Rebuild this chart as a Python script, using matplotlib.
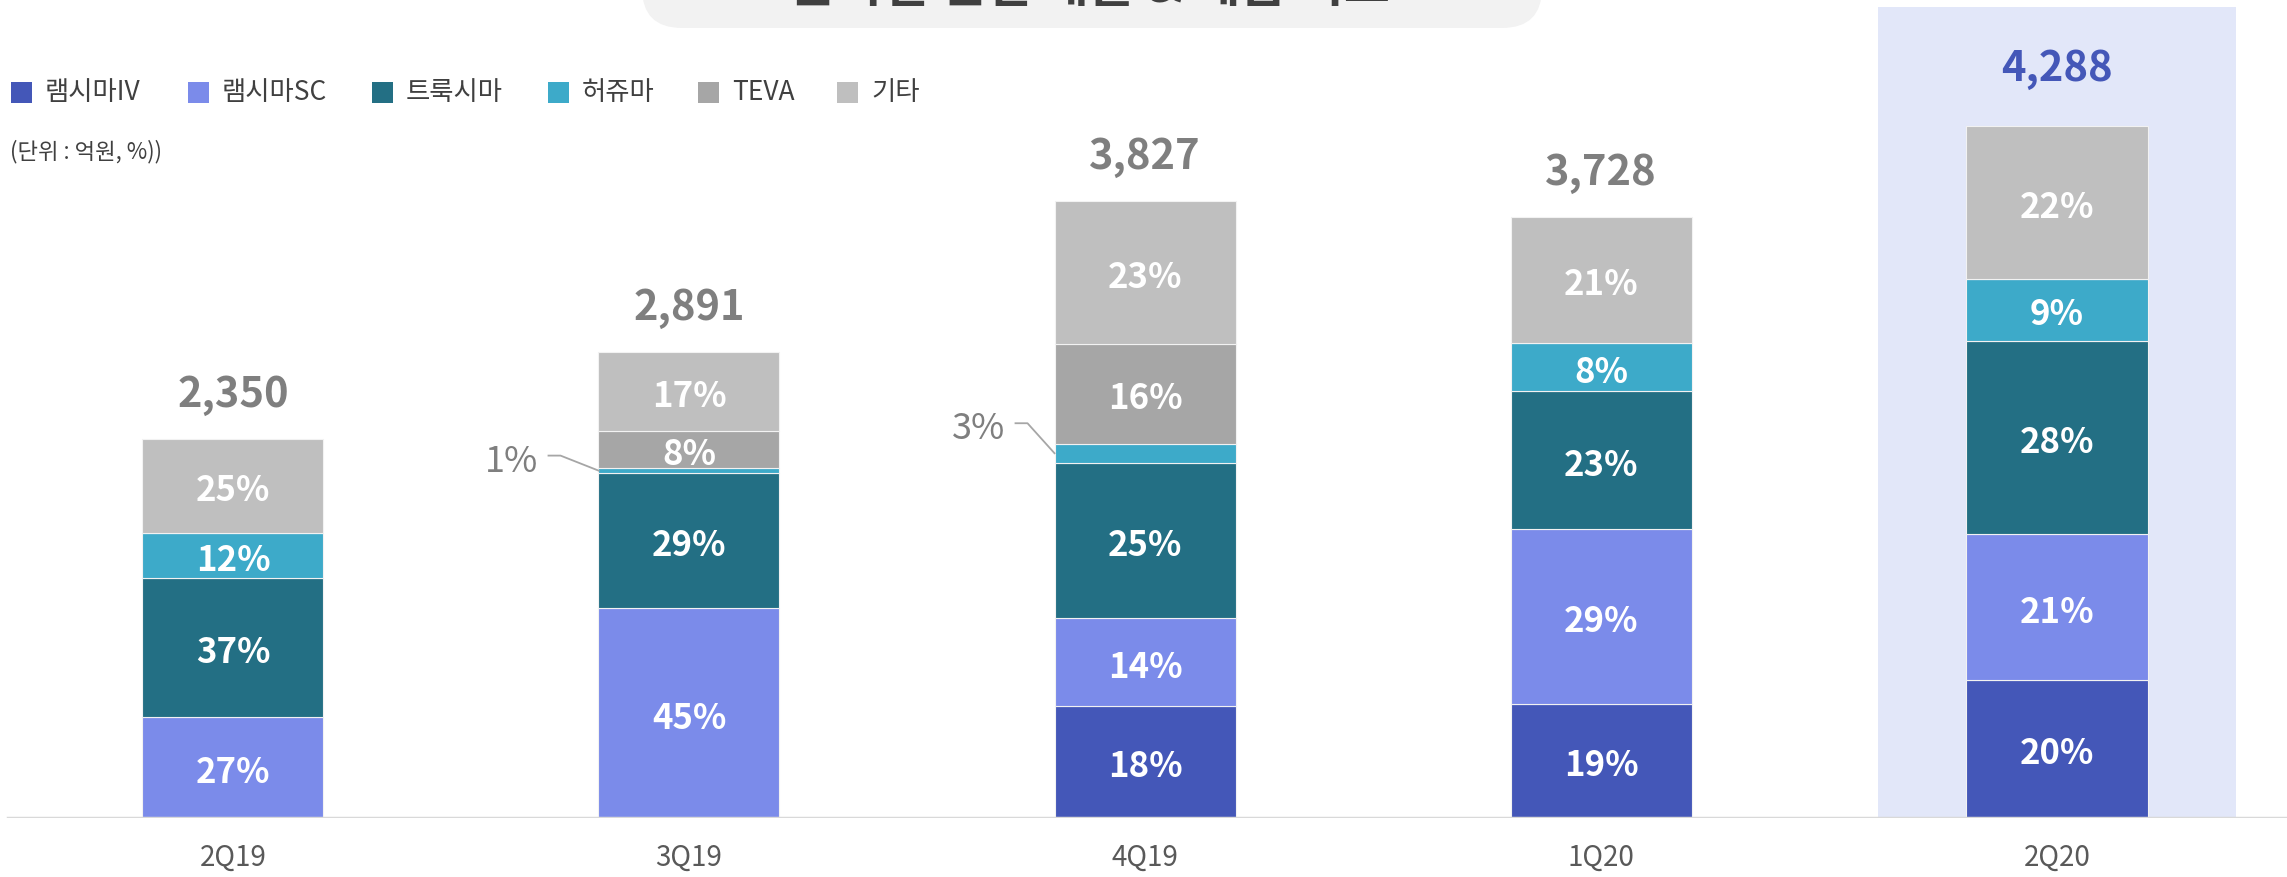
import matplotlib

matplotlib.use("Agg")
import matplotlib.pyplot as plt
from matplotlib.patches import Rectangle, FancyBboxPatch
from matplotlib.transforms import IdentityTransform
import numpy as np

plt.rcParams["font.family"] = ["Noto Sans CJK KR", "DejaVu Sans"]

# ── Data ──────────────────────────────────────────────────────────────────────
quarters = ["2Q19", "3Q19", "4Q19", "1Q20", "2Q20"]
totals = [2350, 2891, 3827, 3728, 4288]
products = ["램시마IV", "램시마SC", "트룩시마", "허쥬마", "TEVA", "기타"]
share_iv = [0, 0, 18, 19, 20]
share_sc = [27, 45, 14, 29, 21]
share_truxima = [37, 29, 25, 23, 28]
share_herzuma = [12, 1, 3, 8, 9]
share_teva = [0, 8, 16, 0, 0]
share_etc = [25, 17, 23, 21, 22]
title = "분기별 연결 매출 & 제품 믹스"
unit_note = "(단위 : 억원, %))"

COLORS = ["#4457B8", "#7B8BEA", "#236F84", "#3DAAC9", "#A6A6A6", "#BFBFBF"]
HIGHLIGHT = "#E2E7F9"

# ── Layout (pixels of the 2287x877 canvas) ────────────────────────────────────
W, H = 2287, 877
BASE_PX = 818          # baseline y from top
PX_PER_UNIT = 0.1613   # vertical scale
SLOT_PX = 456          # distance between bar centres
FIRST_PX = 233         # centre of first bar

fig = plt.figure(figsize=(W / 100, H / 100), dpi=100)
ax = fig.add_axes([0, (H - BASE_PX) / H, 1, BASE_PX / H])
ax.set_xlim(-FIRST_PX / SLOT_PX, (W - FIRST_PX) / SLOT_PX)
ax.set_ylim(0, BASE_PX / PX_PER_UNIT)
for s in ax.spines.values():
    s.set_visible(False)
ax.set_yticks([])

dx = 1 / SLOT_PX        # data x per pixel
dy = 1 / PX_PER_UNIT    # data y per pixel

x = np.arange(len(quarters))
bar_w = 181 * dx

# highlight for latest quarter
ax.add_patch(Rectangle((x[-1] - 179 * dx, 0), 358 * dx, (BASE_PX - 7) * dy,
                       color=HIGHLIGHT, zorder=0, lw=0))

shares = np.array([share_iv, share_sc, share_truxima, share_herzuma,
                   share_teva, share_etc], dtype=float)
seg = shares / shares.sum(axis=0) * np.array(totals)

bottom = np.zeros(len(quarters))
for k in range(len(products)):
    ax.bar(x, seg[k], bar_w, bottom=bottom, color=COLORS[k],
           edgecolor="#F2F2F2", linewidth=0.8, zorder=2)
    for i in range(len(quarters)):
        p = shares[k, i]
        if p == 0:
            continue
        mid = bottom[i] + seg[k, i] / 2
        if p >= 5:
            ax.text(x[i], mid - 5 * dy, f"{int(p)}%", ha="center", va="center",
                    color="white", fontsize=25, fontweight="bold", zorder=3)
        else:
            # small slice: leader line out to the left
            x0 = x[i] - bar_w / 2
            rise = 15 if p < 2 else 30
            run = 38 if p < 2 else 27
            xs = [x0, x0 - run * dx, x0 - (run + 12) * dx]
            ys = [mid, mid + rise * dy, mid + rise * dy]
            ax.plot(xs, ys, color="#A6A6A6", lw=1.3, zorder=3)
            ax.text(x0 - (run + 22) * dx, mid + (rise - 6) * dy, f"{int(p)}%",
                    ha="right", va="center", color="#7F7F7F", fontsize=26,
                    zorder=3)
    bottom += seg[k]

# totals
for i, t in enumerate(totals):
    last = i == len(totals) - 1
    ax.text(x[i], t + (57 if last else 44) * dy, f"{t:,}", ha="center",
            va="center", fontsize=30, fontweight="bold",
            color="#4457B8" if last else "#7F7F7F", zorder=3)

ax.axhline(0, xmin=8 / W, xmax=1, color="#D9D9D9", lw=2.5, zorder=4)
ax.set_xticks(x)
ax.set_xticklabels(quarters, fontsize=20, color="#595959")
ax.tick_params(axis="x", length=0, pad=18)

# ── Legend ────────────────────────────────────────────────────────────────────
sq_x = [11, 188, 372, 548, 698, 837]
for k, name in enumerate(products):
    fig.add_artist(Rectangle((sq_x[k] / W, 1 - 103 / H), 21 / W, 21 / H,
                             transform=fig.transFigure, color=COLORS[k], lw=0))
    fig.text((sq_x[k] + 34) / W, 1 - 93 / H, name, ha="left", va="center",
             fontsize=19, color="#404040")
fig.text(10 / W, 1 - 152 / H, unit_note, ha="left", va="center",
         fontsize=16, color="#404040")

# ── Title tab (mostly cut off at the top) ─────────────────────────────────────
fig.add_artist(FancyBboxPatch((642, H - 28), 900, 120,
                              boxstyle="round,pad=0,rounding_size=40",
                              transform=IdentityTransform(),
                              facecolor="#F2F2F2", edgecolor="none"))
fig.text(1090 / W, 1 - 13 / H, title, ha="center", va="bottom", fontsize=36,
         fontweight="bold", color="#404040")

fig.savefig("out.png", dpi=100)
